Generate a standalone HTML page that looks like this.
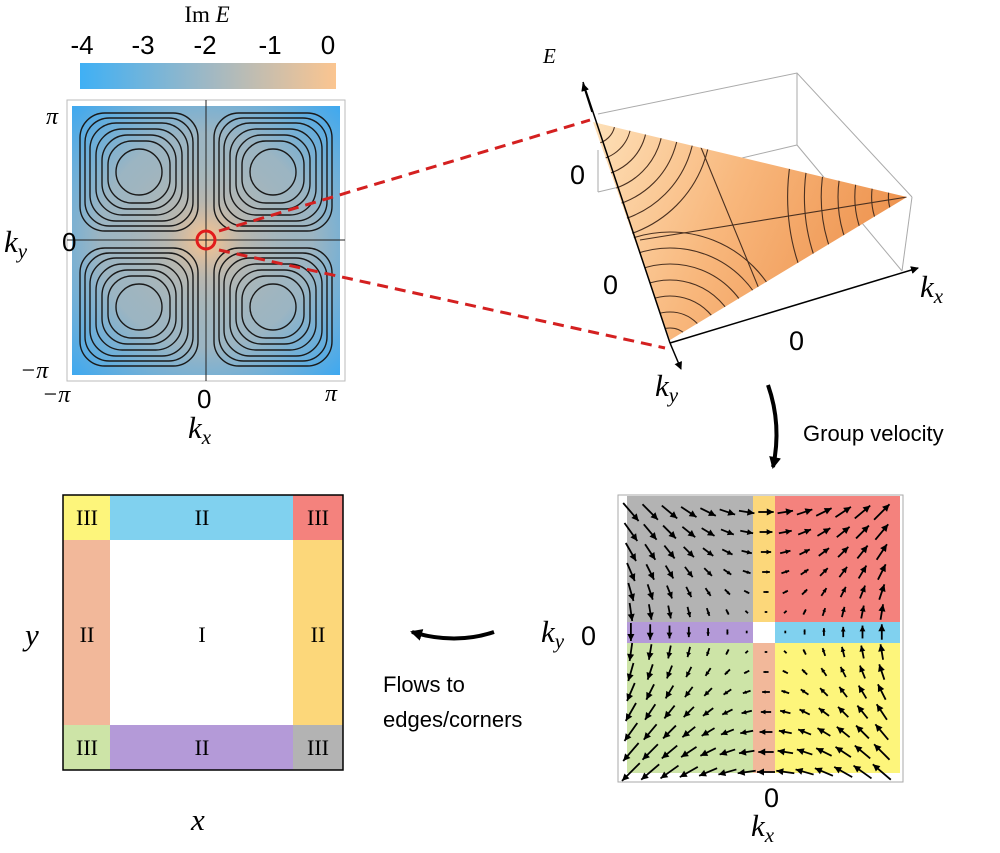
<!DOCTYPE html>
<html><head><meta charset="utf-8"><style>
body{margin:0;background:#fff;}
svg{display:block;}
text{font-family:"Liberation Sans",sans-serif;}
text.m,tspan.m,.m{font-family:"Liberation Serif",serif;font-style:italic;}
text.r{font-family:"Liberation Serif",serif;}
</style></head><body>
<svg id="s" width="1000" height="853" viewBox="0 0 1000 853" xmlns="http://www.w3.org/2000/svg">
<defs>
<linearGradient id="cb" x1="0" x2="1"><stop offset="0" stop-color="#3fb0f5"/><stop offset="0.5" stop-color="#9fb8c4"/><stop offset="1" stop-color="#fbc590"/></linearGradient>
<radialGradient id="cen" cx="206" cy="240" r="110" gradientUnits="userSpaceOnUse"><stop offset="0" stop-color="#fcc48e"/><stop offset="0.35" stop-color="#c4b8a8" stop-opacity="0.7"/><stop offset="1" stop-color="#9db4c0" stop-opacity="0"/></radialGradient>
<radialGradient id="crn" cx="0.5" cy="0.5" r="0.72"><stop offset="0.55" stop-color="#9cb5c2"/><stop offset="1" stop-color="#3aa8f2"/></radialGradient>
<linearGradient id="surf" x1="0" y1="0" x2="1" y2="0.3"><stop offset="0" stop-color="#fde0b8"/><stop offset="0.5" stop-color="#f8b77c"/><stop offset="1" stop-color="#ee9450"/></linearGradient>
<clipPath id="tri"><polygon points="593,122 907,197 670,340"/></clipPath>
<marker id="ah" markerWidth="8" markerHeight="8" refX="7" refY="4" orient="auto" markerUnits="userSpaceOnUse"><path d="M0,0 L8,4 L0,8 z" fill="#000"/></marker>
<marker id="ah2" markerWidth="12" markerHeight="12" refX="10" refY="6" orient="auto" markerUnits="userSpaceOnUse"><path d="M0,0 L12,6 L0,12 z" fill="#000"/></marker>
</defs>

<text x="207" y="22" text-anchor="middle" font-size="23" class="r">Im <tspan class="m">E</tspan></text>
<g font-size="26" text-anchor="middle"><text x="82" y="54">-4</text><text x="143" y="54">-3</text><text x="205" y="54">-2</text><text x="270" y="54">-1</text><text x="328" y="54">0</text></g>
<rect x="80" y="63" width="256" height="26" fill="url(#cb)"/>

<rect x="67" y="100" width="278" height="281" fill="none" stroke="#bbb"/>
<rect x="72" y="106" width="268" height="269" fill="url(#crn)"/>
<rect x="72" y="106" width="268" height="269" fill="url(#cen)"/>
<g id="cont" fill="none" stroke="#1a1a1a" stroke-width="1.4"></g>
<line x1="206" y1="100" x2="206" y2="381" stroke="#222" stroke-width="1"/>
<line x1="67" y1="240" x2="345" y2="240" stroke="#222" stroke-width="1"/>
<circle cx="206" cy="240" r="9" fill="none" stroke="#e21b1b" stroke-width="3"/>
<g stroke="#d42020" stroke-width="3" stroke-dasharray="11,7"><line x1="219" y1="231" x2="590" y2="120"/><line x1="219" y1="250" x2="665" y2="348"/></g>
<g font-size="24"><text class="m" x="46" y="124">π</text><text class="m" x="20" y="378">−π</text><text class="m" x="42" y="402">−π</text><text class="m" x="325" y="401">π</text></g>
<text x="62" y="251" font-size="26">0</text>
<text x="4" y="252" font-size="31" class="m">k<tspan font-size="21" dy="6">y</tspan></text>
<text x="197" y="408" font-size="26">0</text>
<text x="188" y="438" font-size="31" class="m">k<tspan font-size="21" dy="6">x</tspan></text>

<g stroke="#aaa" stroke-width="1" fill="none">
<polyline points="598,114 797,73 912,197"/>
<line x1="797" y1="73" x2="797" y2="145"/>
<line x1="912" y1="197" x2="902" y2="271"/>
<line x1="598" y1="192" x2="797" y2="145"/>
<line x1="797" y1="145" x2="902" y2="271"/>
</g>
<polygon points="593,122 907,197 670,340" fill="url(#surf)"/>
<g clip-path="url(#tri)" fill="none" stroke="#4a3020" stroke-width="1.1" id="sc"></g>
<line x1="583" y1="82" x2="670" y2="343" stroke="#000" stroke-width="1.5"/>
<line x1="592" y1="112" x2="583" y2="84" stroke="#000" stroke-width="1.5" marker-end="url(#ah)"/>
<line x1="670" y1="343" x2="918" y2="268" stroke="#000" stroke-width="1.5" marker-end="url(#ah)"/>
<line x1="670" y1="343" x2="681" y2="369" stroke="#000" stroke-width="1.5" marker-end="url(#ah)"/>
<line x1="598" y1="192" x2="598" y2="150" stroke="#aaa"/>
<text x="543" y="63" font-size="21" class="m">E</text>
<g font-size="27"><text x="570" y="184">0</text><text x="603" y="294">0</text><text x="789" y="350">0</text></g>
<text x="920" y="297" font-size="31" class="m">k<tspan font-size="21" dy="6">x</tspan></text>
<text x="655" y="396" font-size="31" class="m">k<tspan font-size="21" dy="6">y</tspan></text>

<path d="M768,385 Q782,425 773,467" fill="none" stroke="#000" stroke-width="4" marker-end="url(#ah2)"/>
<text x="803" y="441" font-size="22">Group velocity</text>

<rect x="618" y="495" width="285" height="287" fill="none" stroke="#aaa"/>
<rect x="627" y="496" width="126" height="126" fill="#b3b3b3"/>
<rect x="753" y="496" width="22" height="126" fill="#fcd77a"/>
<rect x="775" y="496" width="125" height="126" fill="#f4827d"/>
<rect x="627" y="622" width="126" height="21" fill="#b49ad8"/>
<rect x="775" y="622" width="125" height="21" fill="#80d1ef"/>
<rect x="627" y="643" width="126" height="130" fill="#cde4a7"/>
<rect x="753" y="643" width="22" height="130" fill="#f2b89a"/>
<rect x="775" y="643" width="125" height="130" fill="#fdf57b"/>
<g id="vf" stroke="#000" stroke-width="1.8"></g>
<text x="541" y="642" font-size="31" class="m">k<tspan font-size="21" dy="6">y</tspan></text>
<text x="581" y="645" font-size="27">0</text>
<text x="764" y="807" font-size="27">0</text>
<text x="751" y="836" font-size="31" class="m">k<tspan font-size="21" dy="6">x</tspan></text>

<g font-size="22" text-anchor="middle">
<rect x="63" y="495" width="47" height="45" fill="#fdf57b"/>
<rect x="110" y="495" width="183" height="45" fill="#80d1ef"/>
<rect x="293" y="495" width="50" height="45" fill="#f4827d"/>
<rect x="63" y="540" width="47" height="185" fill="#f2b89a"/>
<rect x="293" y="540" width="50" height="185" fill="#fcd77a"/>
<rect x="63" y="725" width="47" height="45" fill="#cde4a7"/>
<rect x="110" y="725" width="183" height="45" fill="#b49ad8"/>
<rect x="293" y="725" width="50" height="45" fill="#b3b3b3"/>
<rect x="63" y="495" width="280" height="275" fill="none" stroke="#000" stroke-width="1.5"/>
<text class="r" x="87" y="525">III</text><text class="r" x="202" y="525">II</text><text class="r" x="318" y="525">III</text>
<text class="r" x="87" y="642">II</text><text class="r" x="202" y="642">I</text><text class="r" x="318" y="642">II</text>
<text class="r" x="87" y="755">III</text><text class="r" x="202" y="755">II</text><text class="r" x="318" y="755">III</text>
</g>
<text x="25" y="645" font-size="31" class="m">y</text>
<text x="191" y="830" font-size="31" class="m">x</text>
<path d="M494,632 Q455,645 412,632" fill="none" stroke="#000" stroke-width="4" marker-end="url(#ah2)"/>
<text x="383" y="692" font-size="22">Flows to</text>
<text x="383" y="727" font-size="22">edges/corners</text>
</svg>
<script>
var NS="http://www.w3.org/2000/svg";
function el(p,t,a){var e=document.createElementNS(NS,t);for(var k in a)e.setAttribute(k,a[k]);p.appendChild(e);return e;}
var c=document.getElementById("cont");
[[139,172],[273,172],[139,307],[273,307]].forEach(function(q){
 [23,31,37,43,49,54,59].forEach(function(h,i){
  var rx=h*(i<1?1:Math.max(0.42,0.85-i*0.08));
  el(c,"rect",{x:q[0]-h,y:q[1]-h,width:2*h,height:2*h,rx:rx,ry:rx});
 });
});
var sc=document.getElementById("sc");
for(var i=0;i<7;i++){var r=22+i*16;el(sc,"circle",{cx:593,cy:122,r:r});}
for(var i=0;i<7;i++){var r=22+i*16;el(sc,"circle",{cx:670,cy:350,r:r});}
for(var i=0;i<7;i++){var r=18+i*14;el(sc,"ellipse",{cx:910,cy:197,rx:r*1.2,ry:r*1.6});}
el(sc,"line",{x1:640,y1:240,x2:907,y2:197});el(sc,"line",{x1:700,y1:145,x2:780,y2:340});
var vf=document.getElementById("vf");
for(var i=-7;i<=6;i++)for(var j=-6;j<=7;j++){
 var x=766+19.3*i,y=632+20*j;var u=i/7,w=-j/7;
 var dx=w,dy=-u;var L=Math.hypot(dx,dy);if(L<0.01)continue;
 var s=Math.min(L,1.4)*18;var ux=dx/L,uy=dy/L;
 var x1=x-ux*s/2,y1=y-uy*s/2,x2=x+ux*s/2,y2=y+uy*s/2;
 el(vf,"line",{x1:x1,y1:y1,x2:x2,y2:y2});
 var hs=Math.min(7,s*0.45),hw=hs*0.5;
 el(vf,"polygon",{points:x2+","+y2+" "+(x2-ux*hs-uy*hw)+","+(y2-uy*hs+ux*hw)+" "+(x2-ux*hs+uy*hw)+","+(y2-uy*hs-ux*hw),fill:"#000",stroke:"none"});
}
</script>
</body></html>
